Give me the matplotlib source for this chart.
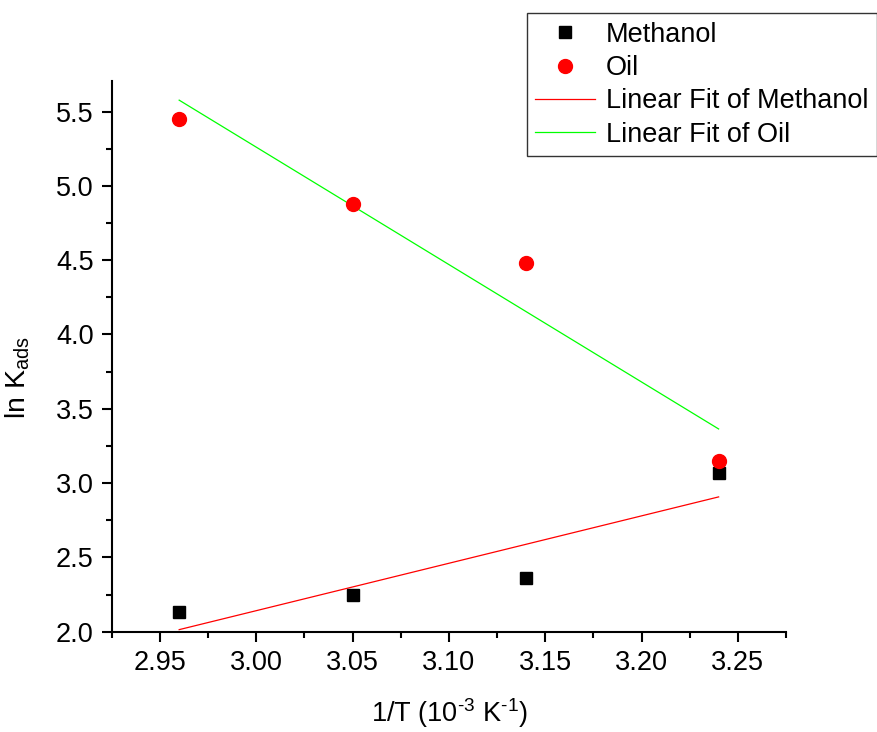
import numpy as np
import matplotlib
matplotlib.use("Agg")
import matplotlib.pyplot as plt
from matplotlib.ticker import MultipleLocator, FormatStrFormatter

plt.rcParams['font.family'] = ['Liberation Sans', 'DejaVu Sans']
plt.rcParams['mathtext.fontset'] = 'custom'
plt.rcParams['mathtext.rm'] = 'Liberation Sans'
plt.rcParams['mathtext.it'] = 'Liberation Sans:italic'
plt.rcParams['mathtext.bf'] = 'Liberation Sans:bold'

inv_T = [2.96, 3.05, 3.14, 3.24]
methanol = [2.13, 2.25, 2.36, 3.07]
oil = [5.45, 4.88, 4.48, 3.15]

fig = plt.figure(figsize=(8.77, 7.32), dpi=100)
ax = fig.add_axes([0.1274, 0.137, 0.7689, 0.7523])

x = np.array(inv_T)
pm = np.polyfit(x, methanol, 1)
po = np.polyfit(x, oil, 1)
xf = np.array([x.min(), x.max()])

ax.plot(inv_T, methanol, 's', color='black', markersize=8.5, label='Methanol', zorder=3)
ax.plot(inv_T, oil, 'o', color='#ff0000', markersize=10, label='Oil', zorder=3)
ax.plot(xf, np.polyval(pm, xf), '-', color='#ff0000', lw=0.9, label='Linear Fit of Methanol')
ax.plot(xf, np.polyval(po, xf), '-', color='#00ff00', lw=0.9, label='Linear Fit of Oil')

ax.set_xlim(2.925, 3.275)
ax.set_ylim(2.0, 5.705)
ax.xaxis.set_major_locator(MultipleLocator(0.05))
ax.xaxis.set_minor_locator(MultipleLocator(0.025))
ax.yaxis.set_major_locator(MultipleLocator(0.5))
ax.yaxis.set_minor_locator(MultipleLocator(0.25))
ax.xaxis.set_major_formatter(FormatStrFormatter('%.2f'))
ax.yaxis.set_major_formatter(FormatStrFormatter('%.1f'))

for s in ['top', 'right']:
    ax.spines[s].set_visible(False)
for s in ['left', 'bottom']:
    ax.spines[s].set_linewidth(1.5)

ax.tick_params(which='major', direction='out', length=7, width=1.5, labelsize=19.5, pad=6)
ax.tick_params(which='minor', direction='out', length=4, width=1.5)

ax.set_xlabel('1/T (10$^{\\text{-3}}$ K$^{\\text{-1}}$)', fontsize=19.5, labelpad=15)
ax.set_ylabel('ln K$_{\\mathrm{ads}}$', fontsize=20.5)
ax.yaxis.set_label_coords(-0.118, 0.462)

leg = fig.legend(loc='upper left', bbox_to_anchor=(526.7/877, 1-13/732), fontsize=19.5,
                 frameon=True, fancybox=False, edgecolor='black', handlelength=2.2,
                 handletextpad=0.4, labelspacing=0.27, borderpad=0.32, borderaxespad=0)
leg.get_frame().set_linewidth(1.0)

fig.savefig('out.png', dpi=100)
